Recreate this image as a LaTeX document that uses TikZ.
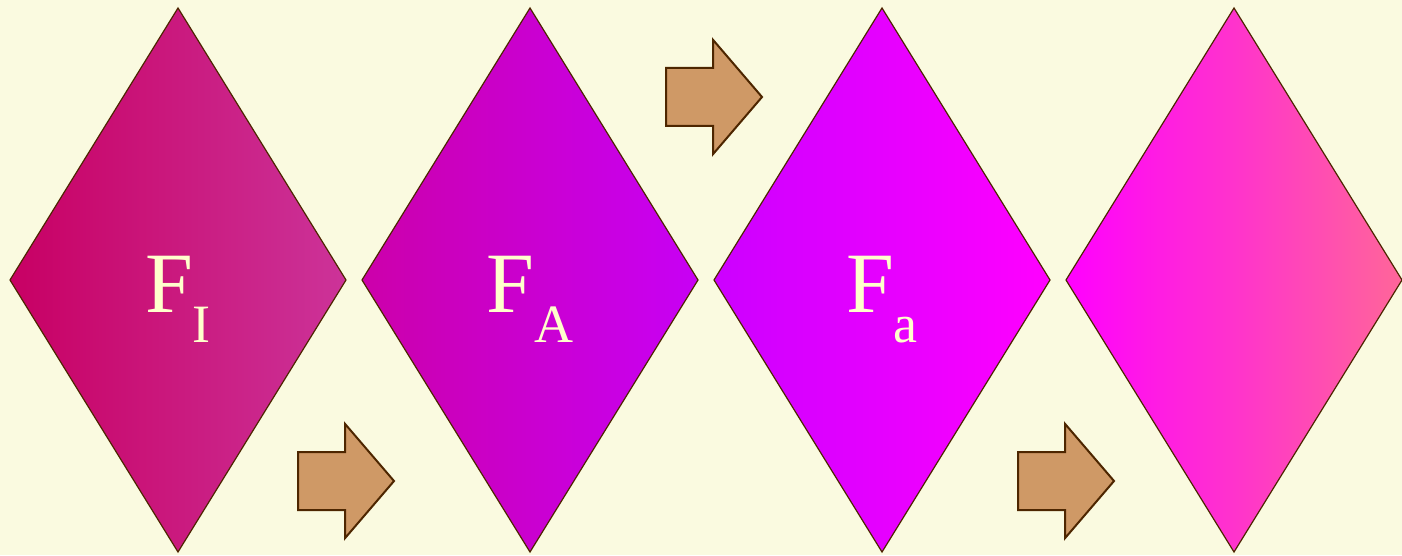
\documentclass[tikz,border=0pt]{standalone}
\usepackage{fontspec}
\setmainfont{Liberation Serif}
\usetikzlibrary{positioning, shapes.geometric, shapes.arrows}

\definecolor{bgcream}{RGB}{250,250,224}
\definecolor{txtcream}{RGB}{255,255,204}
\definecolor{edgebrown}{RGB}{77,38,0}
\definecolor{arrowtan}{RGB}{207,153,102}

\begin{document}
\begin{tikzpicture}[x=1pt, y=1pt, node distance=16pt,
    rhomb/.style={diamond, draw=edgebrown, line width=1.2pt, inner sep=0pt, outer sep=0pt,
        minimum width=336pt, minimum height=544pt, shading angle=90},
    push/.style={single arrow, draw=edgebrown, fill=arrowtan, line width=2pt, inner sep=0pt,
        outer sep=0pt, text height=56pt, text depth=0pt, minimum height=96pt, minimum width=112pt,
        single arrow head extend=28pt, single arrow head indent=0pt, single arrow tip angle=98.8,
        anchor=tail},
    tag/.style={text=txtcream, anchor=base, inner sep=0pt, font=\fontsize{86}{86}\selectfont}]
    \fill[bgcream] (0,0) rectangle (1402,555);
    \useasboundingbox (0,0) rectangle (1402,555);

    \node[rhomb, left color={rgb,255:red,200;green,0;blue,100}, right color={rgb,255:red,204;green,51;blue,153}] (D1) at (178,275) {};
    \node[rhomb, right=of D1, left color={rgb,255:red,204;green,0;blue,170}, right color={rgb,255:red,200;green,0;blue,245}] (D2) {};
    \node[rhomb, right=of D2, left color={rgb,255:red,204;green,0;blue,255}, right color={rgb,255:red,255;green,0;blue,255}] (D3) {};
    \node[rhomb, right=of D3, left color={rgb,255:red,255;green,0;blue,255}, right color={rgb,255:red,255;green,102;blue,153}] (D4) {};

    \node[tag] (T1) at ([yshift=-32pt]D1.center) {F\raisebox{-30pt}{\fontsize{54}{54}\selectfont I}};
    \node[tag] (T2) at ([yshift=-32pt]D2.center) {F\raisebox{-30pt}{\fontsize{54}{54}\selectfont A}};
    \node[tag] (T3) at ([yshift=-32pt]D3.center) {F\raisebox{-30pt}{\fontsize{54}{54}\selectfont a}};

    \node[push] (A1) at (298,74) {};
    \node[push] (A2) at (666,458) {};
    \node[push] (A3) at (1018,74) {};
\end{tikzpicture}
\end{document}
